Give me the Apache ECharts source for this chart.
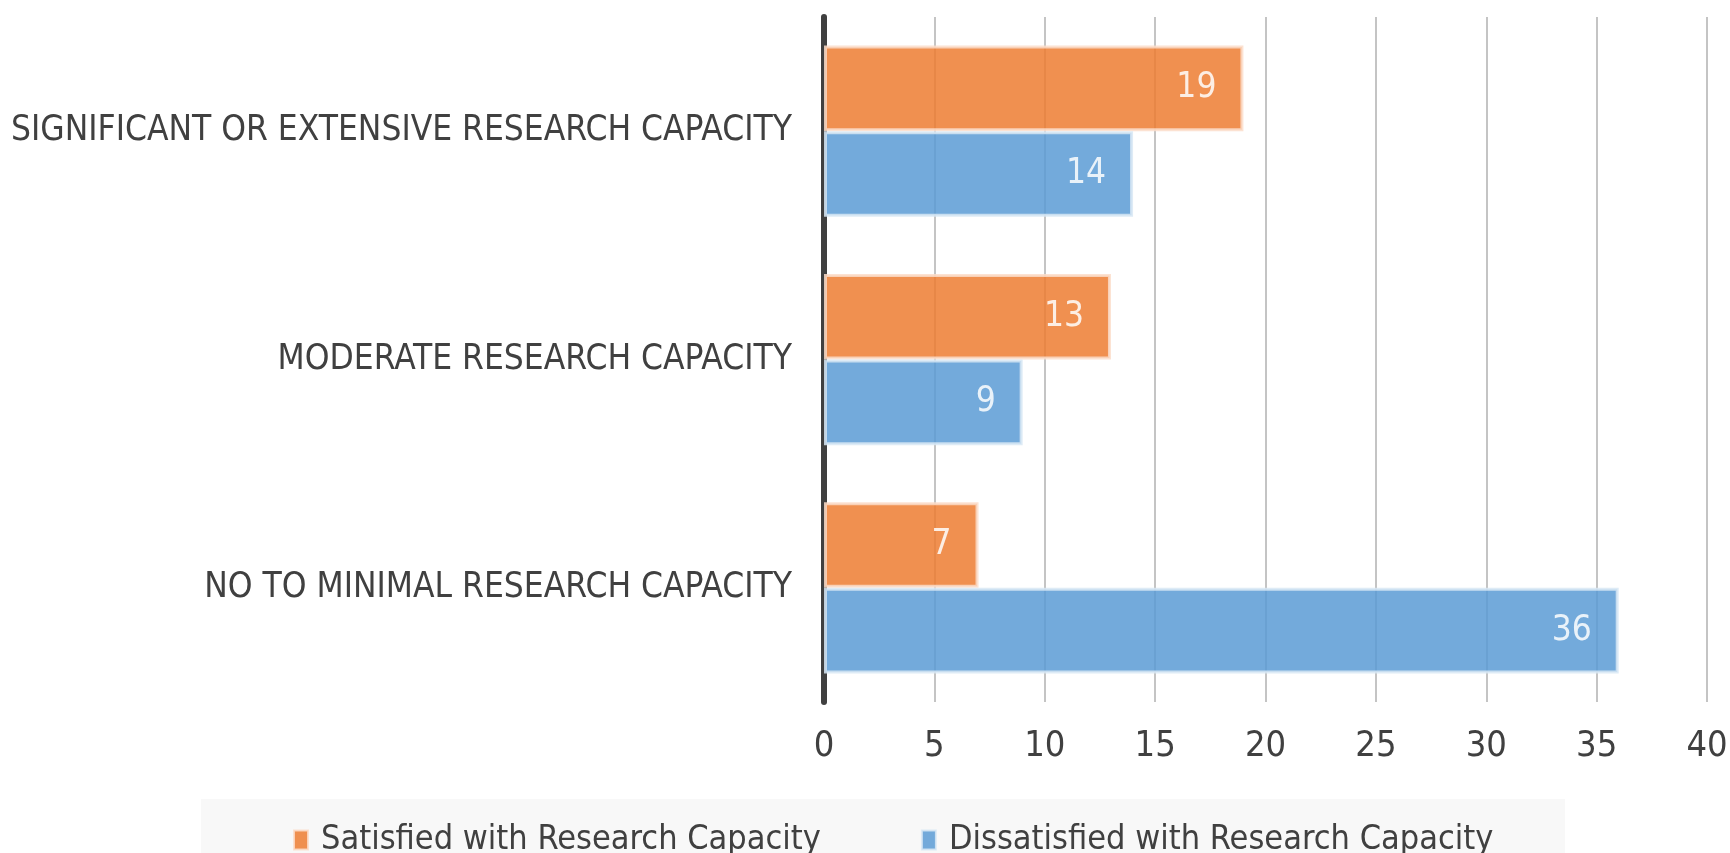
<!DOCTYPE html>
<html>
<head>
<meta charset="utf-8">
<script src="https://cdn.jsdelivr.net/npm/echarts@6/dist/echarts.min.js"></script>
<style>
  html, body { margin: 0; padding: 0; background: #fff; }
  #main { width: 1730px; height: 853px; }
</style>
</head>
<body>
<div id="main"></div>
<script>
  // categories top to bottom
  var categories = [
    'SIGNIFICANT OR EXTENSIVE RESEARCH CAPACITY',
    'MODERATE RESEARCH CAPACITY',
    'NO TO MINIMAL RESEARCH CAPACITY'
  ]
  var seriesNames = ['Satisfied with Research Capacity', 'Dissatisfied with Research Capacity']
  var satisfied = [19, 13, 7]
  var dissatisfied = [14, 9, 36]

  var FONT = "'Liberation Sans Narrow', 'DejaVu Sans Condensed', sans-serif"
  var TEXT = '#404040'

  var chart = echarts.init(document.getElementById('main'))

  function barSeries(name, data, color, border) {
    return {
      name: name,
      type: 'bar',
      data: data,
      barGap: '0%',
      barCategoryGap: '25%',
      itemStyle: {
        color: color,
        opacity: 0.85,
        borderColor: border,
        borderWidth: 3
      },
      label: {
        show: true,
        position: 'insideRight',
        distance: 27,
        color: '#fff',
        fontFamily: FONT,
        fontSize: 35
      }
    }
  }

  chart.setOption({
    animation: false,
    textStyle: { fontFamily: FONT },
    graphic: [{
      type: 'rect',
      left: 201,
      top: 799,
      shape: { width: 1364, height: 60 },
      style: { fill: '#f8f8f8' },
      z: -1
    }],
    legend: {
      data: seriesNames,
      left: 293,
      top: 823,
      padding: 0,
      itemWidth: 14,
      itemHeight: 19,
      itemGap: 100,
      icon: 'rect',
      textStyle: {
        color: TEXT,
        fontFamily: FONT,
        fontSize: 34,
        padding: [0, 0, 0, 8]
      }
    },
    grid: {
      left: 824,
      right: 23,
      top: 17,
      bottom: 151,
      containLabel: false,
      outerBoundsMode: 'none'
    },
    xAxis: {
      type: 'value',
      min: 0,
      max: 40,
      interval: 5,
      axisLine: { show: false },
      axisTick: { show: false },
      axisLabel: {
        color: TEXT,
        fontFamily: FONT,
        fontSize: 36,
        margin: 27
      },
      splitLine: {
        lineStyle: { color: '#c4c4c4', width: 2 }
      }
    },
    yAxis: {
      type: 'category',
      inverse: true,
      data: categories,
      axisLine: { lineStyle: { color: '#404040', width: 6 } },
      axisTick: { show: false },
      axisLabel: {
        color: TEXT,
        fontFamily: FONT,
        fontSize: 35,
        margin: 32
      }
    },
    series: [
      barSeries(seriesNames[0], satisfied, '#ED7D31', '#FBDDCA'),
      barSeries(seriesNames[1], dissatisfied, '#5B9BD5', '#D8E7F5')
    ]
  })
</script>
</body>
</html>
